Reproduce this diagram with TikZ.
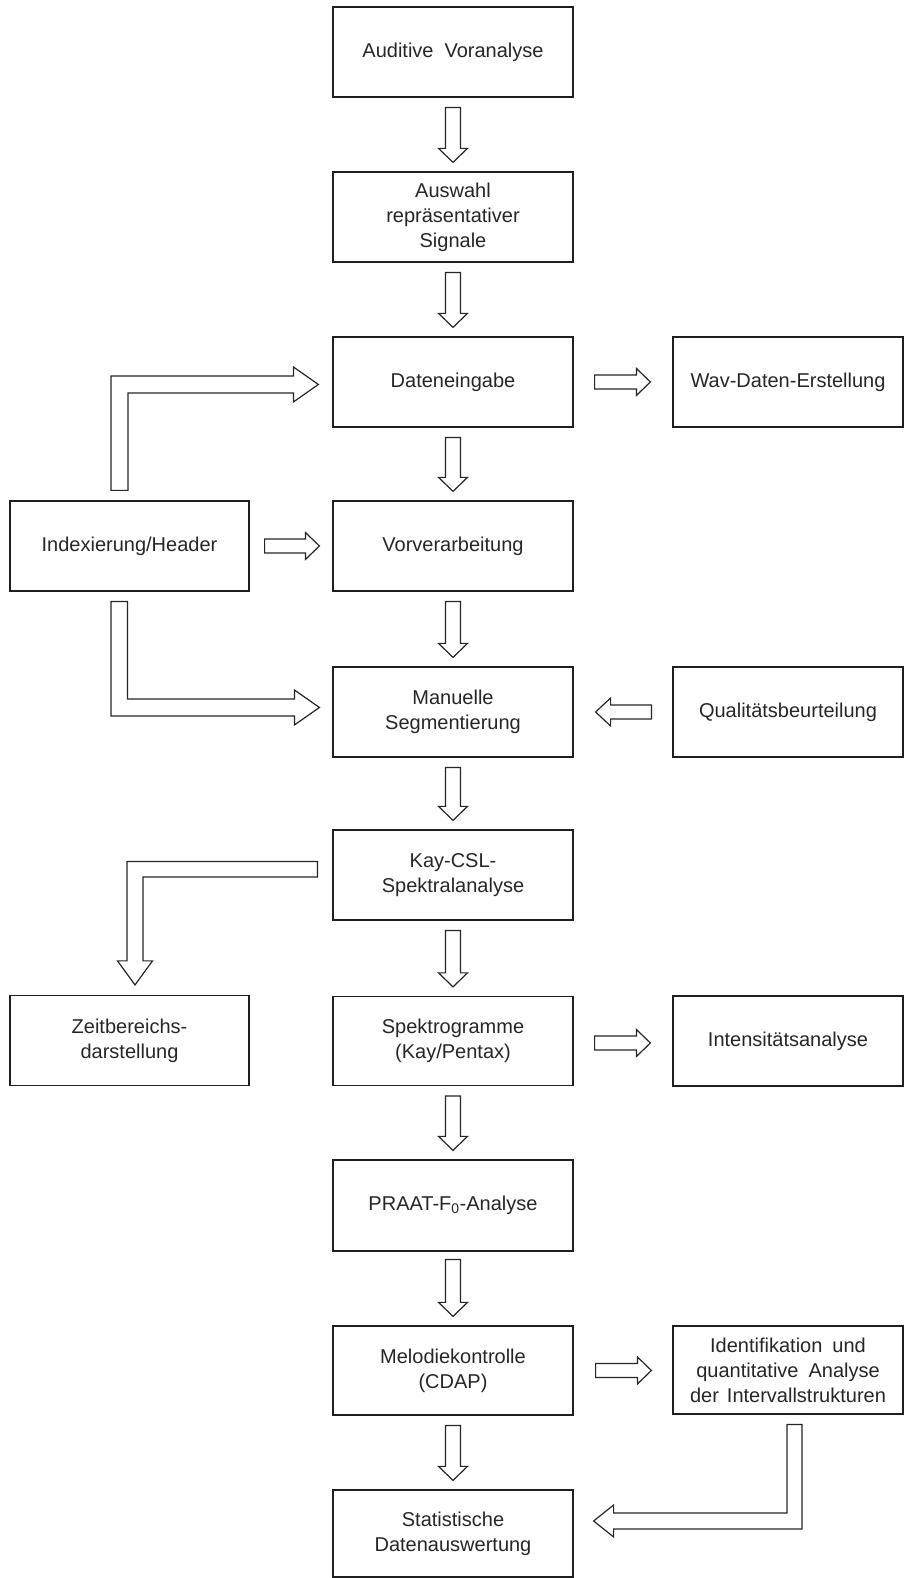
\documentclass[tikz,border=0pt]{standalone}
\usepackage{fontspec}
\setmainfont{Liberation Sans}
\usetikzlibrary{calc}
\tikzset{
  box/.style={draw=black!88, line width=1.2pt, minimum width=240pt, minimum height=90pt,
    align=center, inner sep=2pt, text=black!85,
    font=\fontsize{20}{25}\selectfont},
  lbox/.style={box, minimum width=239pt},
  rbox/.style={box, minimum width=230pt},
  blk/.style={draw=black!85, line width=1.2pt, fill=white, line join=miter}
}
\newcommand\blkdown[2]{\draw[blk] let \p1=#1, \p2=#2 in
  (\x1-7.5pt,\y1) -- (\x1+7.5pt,\y1) -- (\x1+7.5pt,\y2+14pt) -- (\x1+14.5pt,\y2+14pt)
  -- (\x1,\y2) -- (\x1-14.5pt,\y2+14pt) -- (\x1-7.5pt,\y2+14pt) -- cycle;}
\newcommand\blkright[2]{\draw[blk] let \p1=#1, \p2=#2 in
  (\x1,\y1-7pt) -- (\x2-14pt,\y1-7pt) -- (\x2-14pt,\y1-13.5pt) -- (\x2,\y1)
  -- (\x2-14pt,\y1+13.5pt) -- (\x2-14pt,\y1+7pt) -- (\x1,\y1+7pt) -- cycle;}
\newcommand\blkleft[2]{\draw[blk] let \p1=#1, \p2=#2 in
  (\x1,\y1-7pt) -- (\x2+15pt,\y1-7pt) -- (\x2+15pt,\y1-14pt) -- (\x2,\y1)
  -- (\x2+15pt,\y1+14pt) -- (\x2+15pt,\y1+7pt) -- (\x1,\y1+7pt) -- cycle;}
\begin{document}
\begin{tikzpicture}[x=1pt,y=1pt]
\useasboundingbox (0,0) rectangle (904,1578);
% central column
\node[box] (aud) at (453,1526) {Auditive\hspace{0.55em}Voranalyse};
\node[box] (ausw) at (453,1361) {Auswahl\\repräsentativer\\Signale};
\node[box] (dat) at (453,1196) {Dateneingabe};
\node[box] (vor) at (453,1032) {Vorverarbeitung};
\node[box] (man) at (453,866) {Manuelle\\Segmentierung};
\node[box] (kay) at (453,703) {Kay-CSL-\\Spektralanalyse};
\node[box, minimum height=89pt] (spek) at (453,537) {Spektrogramme\\(Kay/Pentax)};
\node[box, minimum height=91pt] (praat) at (453,372.5) {PRAAT-F\textsubscript{0}-Analyse};
\node[box, minimum height=89pt] (mel) at (453,207.5) {Melodiekontrolle\\(CDAP)};
\node[box, minimum height=87pt] (stat) at (453,44.5) {Statistische\\Datenauswertung};
% left column
\node[lbox] (idx) at (129.5,1032) {Indexierung/Header};
\node[lbox] (zeit) at (129.5,537.5) {Zeitbereichs-\\darstellung};
% right column
\node[rbox] (wav) at (788,1196) {Wav-Daten-Erstellung};
\node[rbox] (qual) at (788,866) {Qualitätsbeurteilung};
\node[rbox] (int) at (788,537) {Intensitätsanalyse};
\node[rbox, minimum height=88pt] (ident) at (788,208) {Identifikation\hspace{0.5em}und\\quantitative\hspace{0.5em}Analyse\\der\hspace{0.4em}Intervallstrukturen};
% vertical block arrows
\blkdown{($(aud.south)+(0,-10)$)}{($(ausw.north)+(0,9)$)}
\blkdown{($(ausw.south)+(0,-10)$)}{($(dat.north)+(0,9)$)}
\blkdown{($(dat.south)+(0,-10)$)}{($(vor.north)+(0,9)$)}
\blkdown{($(vor.south)+(0,-10)$)}{($(man.north)+(0,9)$)}
\blkdown{($(man.south)+(0,-10)$)}{($(kay.north)+(0,9)$)}
\blkdown{($(kay.south)+(0,-10)$)}{($(spek.north)+(0,9)$)}
\blkdown{($(spek.south)+(0,-10)$)}{($(praat.north)+(0,9)$)}
\blkdown{($(praat.south)+(0,-8)$)}{($(mel.north)+(0,9)$)}
\blkdown{($(mel.south)+(0,-10)$)}{($(stat.north)+(0,9)$)}
% horizontal block arrows
\blkright{($(dat.east)+(21,0)$)}{($(wav.west)+(-22,0)$)}
\blkright{($(spek.east)+(21,-2)$)}{($(int.west)+(-22,-2)$)}
\blkright{($(mel.east)+(22,0)$)}{($(ident.west)+(-21,0)$)}
\blkright{($(idx.east)+(15,0)$)}{($(vor.west)+(-13,0)$)}
\blkleft{($(qual.west)+(-21,0)$)}{($(man.east)+(22,0)$)}
% bent arrow: Indexierung -> Dateneingabe
\draw[blk] let \p1=(idx.north), \p2=(dat.west) in
  (\x1-18.5pt,\y1+10pt) -- (\x1-18.5pt,\y2+6pt) -- (\x2-39pt,\y2+6pt) -- (\x2-39pt,\y2+15pt)
  -- (\x2-14pt,\y2-2.5pt) -- (\x2-39pt,\y2-20pt) -- (\x2-39pt,\y2-11pt)
  -- (\x1-1.5pt,\y2-11pt) -- (\x1-1.5pt,\y1+10pt) -- cycle;
% bent arrow: Indexierung -> Manuelle Segmentierung
\draw[blk] let \p1=(idx.south), \p2=(man.west) in
  (\x1-18.5pt,\y1-10pt) -- (\x1-2pt,\y1-10pt) -- (\x1-2pt,\y2+13pt) -- (\x2-38pt,\y2+13pt)
  -- (\x2-38pt,\y2+22pt) -- (\x2-13pt,\y2+4.5pt) -- (\x2-38pt,\y2-13pt) -- (\x2-38pt,\y2-4pt)
  -- (\x1-18.5pt,\y2-4pt) -- cycle;
% bent arrow: Kay -> Zeitbereichsdarstellung
\draw[blk] let \p1=(kay.west), \p2=(zeit.north) in
  (\x1-15pt,\y1+13.5pt) -- (\x2-2.5pt,\y1+13.5pt) -- (\x2-2.5pt,\y2+34pt) -- (\x2-12pt,\y2+34pt)
  -- (\x2+5.5pt,\y2+10pt) -- (\x2+23pt,\y2+34pt) -- (\x2+13.5pt,\y2+34pt)
  -- (\x2+13.5pt,\y1-2pt) -- (\x1-15pt,\y1-2pt) -- cycle;
% bent arrow: Identifikation -> Statistische Datenauswertung
\draw[blk] let \p1=(ident.south), \p2=(stat.east) in
  (\x1-1pt,\y1-10pt) -- (\x1+14pt,\y1-10pt) -- (\x1+14pt,\y2+4.5pt) -- (\x2+40pt,\y2+4.5pt)
  -- (\x2+40pt,\y2-3.5pt) -- (\x2+20pt,\y2+12.5pt) -- (\x2+40pt,\y2+28.5pt) -- (\x2+40pt,\y2+20.5pt)
  -- (\x1-1pt,\y2+20.5pt) -- cycle;
\end{tikzpicture}
\end{document}
